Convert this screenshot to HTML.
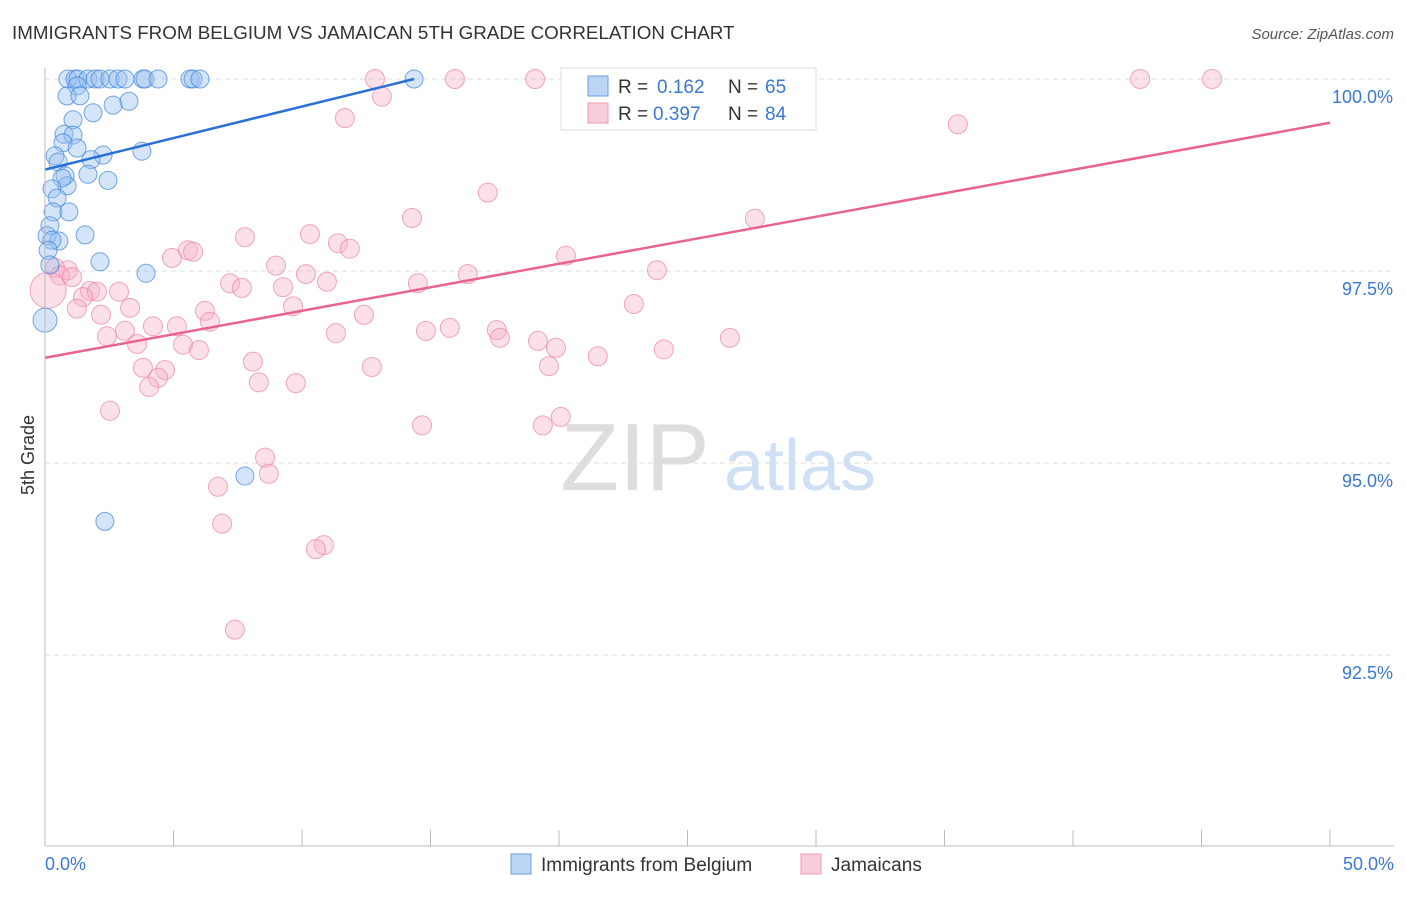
<!DOCTYPE html>
<html><head><meta charset="utf-8"><style>
body{margin:0;background:#fff;font-family:"Liberation Sans",sans-serif;}
svg text{font-family:"Liberation Sans",sans-serif;}
</style></head><body>
<svg id="c" width="1406" height="892">
<text x="12" y="39" font-size="18.8" fill="#333">IMMIGRANTS FROM BELGIUM VS JAMAICAN 5TH GRADE CORRELATION CHART</text>
<text x="1394" y="39" font-size="15" fill="#555" font-style="italic" text-anchor="end">Source: ZipAtlas.com</text>
<text x="635" y="490" font-size="96" fill="#ddd" font-family="Liberation Serif" text-anchor="middle">ZIP</text>
<text x="800" y="490" font-size="72" fill="#cfe0f5" text-anchor="middle">atlas</text>
<g id="grid"></g><g id="pts"></g><g id="lines"></g>
<line x1="45" y1="68" x2="45" y2="846" stroke="#bbb"/>
<line x1="45" y1="846" x2="1394" y2="846" stroke="#bbb"/>
<text x="34" y="455" font-size="18" fill="#333" transform="rotate(-90 34 455)" text-anchor="middle">5th Grade</text>
<text x="45" y="870" font-size="18" fill="#3a78d4">0.0%</text>
<text x="1394" y="870" font-size="18" fill="#3a78d4" text-anchor="end">50.0%</text>
<g>
<rect x="561" y="68" width="255" height="62" fill="#fff" stroke="#ddd"/>
<rect x="588" y="76" width="20" height="20" fill="#bcd5f5" stroke="#6a9ee0"/>
<rect x="588" y="103" width="20" height="20" fill="#f9ccd9" stroke="#ee9ab4"/>
<text x="618" y="93" font-size="19" fill="#333">R =</text><text x="657" y="93" font-size="19" fill="#3a78d4">0.162</text>
<text x="728" y="93" font-size="19" fill="#333">N =</text><text x="765" y="93" font-size="19" fill="#3a78d4">65</text>
<text x="618" y="120" font-size="19" fill="#333">R =</text><text x="653" y="120" font-size="19" fill="#3a78d4">0.397</text>
<text x="728" y="120" font-size="19" fill="#333">N =</text><text x="765" y="120" font-size="19" fill="#3a78d4">84</text>
</g>
<g>
<rect x="511" y="854" width="20" height="20" fill="#bcd5f5" stroke="#6a9ee0"/>
<text x="541" y="871" font-size="19" fill="#333">Immigrants from Belgium</text>
<rect x="801" y="854" width="20" height="20" fill="#f9ccd9" stroke="#ee9ab4"/>
<text x="831" y="871" font-size="19" fill="#333">Jamaicans</text>
</g>
</svg>
<script>
const yTicks=[100,97.5,95,92.5];
const yTickLabels=["100.0%","97.5%","95.0%","92.5%"];
const xTicks=[0,5,10,15,20,25,30,35,40,45,50];
const blueX=[0.89,1.17,1.28,1.67,1.95,2.14,2.53,2.84,3.11,3.81,3.89,4.40,5.64,5.76,6.03,14.36,1.25,0.86,1.36,1.87,2.65,3.27,1.09,0.74,1.09,0.70,1.25,3.77,2.26,1.79,0.39,0.51,1.67,2.45,0.78,0.86,0.66,0.27,0.47,0.31,0.93,0.19,0.08,1.56,0.54,0.27,0.12,0.19,2.14,3.93,0,7.78,2.33];
const blueY=[100,100,100,100,100,100,100,100,100,100,100,100,100,100,100,100,99.91,99.78,99.78,99.56,99.66,99.71,99.47,99.28,99.27,99.17,99.10,99.06,99.01,98.95,99.00,98.92,98.76,98.68,98.74,98.61,98.71,98.57,98.45,98.27,98.27,98.09,97.96,97.97,97.89,97.90,97.77,97.58,97.62,97.47,96.86,94.83,94.24];
const pinkX=[12.84,15.95,19.07,26.46,42.61,45.41,13.11,11.67,35.52,17.23,14.28,27.62,7.78,10.31,11.40,11.86,5.56,5.76,4.94,20.27,8.99,10.15,16.45,23.81,0.39,0.89,0.58,1.05,7.20,7.66,9.26,10.97,14.51,1.75,2.02,2.88,1.48,6.22,9.65,22.91,1.24,3.31,2.18,12.41,6.42,15.75,3.11,5.13,4.20,11.32,14.82,17.58,17.70,2.41,26.65,3.58,5.37,5.99,19.18,19.88,21.51,24.08,8.09,3.81,4.67,12.72,19.61,4.40,4.05,8.32,9.76,2.53,14.67,19.37,20.07,8.56,8.71,6.73,6.89,10.85,10.54,7.39,0.12];
const pinkY=[100,100,100,100,100,100,99.77,99.49,99.41,98.52,98.19,98.18,97.94,97.98,97.86,97.79,97.77,97.75,97.67,97.70,97.57,97.46,97.46,97.51,97.54,97.51,97.44,97.42,97.34,97.28,97.29,97.36,97.34,97.24,97.23,97.23,97.16,96.98,97.04,97.07,97.01,97.02,96.93,96.93,96.84,96.76,96.72,96.78,96.78,96.69,96.72,96.73,96.63,96.65,96.63,96.55,96.54,96.47,96.59,96.50,96.39,96.48,96.32,96.24,96.21,96.25,96.26,96.11,95.99,96.05,96.04,95.68,95.49,95.49,95.60,95.07,94.86,94.69,94.21,93.93,93.88,92.83,97.25];
const blueTrend=[0,98.82,14.36,100];
const pinkTrend=[0,96.37,50,99.43];
const sx=v=>45+v*25.7, sy=v=>79+(100-v)*76.8;
const NS="http://www.w3.org/2000/svg";
const mk=(p,t,a)=>{const e=document.createElementNS(NS,t);for(const k in a)e.setAttribute(k,a[k]);document.getElementById(p).appendChild(e);return e;};
yTicks.forEach((t,i)=>{
 const l=mk('grid','line',{x1:45,x2:1394,y1:sy(t),y2:sy(t),stroke:'#ddd','stroke-dasharray':'5,4'});
 
 
 const tx=mk('grid','text',{x:1393,y:sy(t)+24,'font-size':18,fill:'#3a78d4','text-anchor':'end'});
 tx.textContent=yTickLabels[i];
 
 
});
xTicks.forEach(t=>{
 const l=mk('grid','line',{x1:sx(t),x2:sx(t),y1:830,y2:846,stroke:'#bbb'});
 
 
});
pinkX.forEach((x,i)=>{
 const c=mk('pts','circle',{cx:sx(x),cy:sy(pinkY[i]),r:(i==pinkX.length-1?18:9.5),fill:'rgba(246,178,200,0.4)',stroke:'rgba(236,130,165,0.7)','stroke-width':1});
 
 
});
blueX.forEach((x,i)=>{
 const c=mk('pts','circle',{cx:sx(x),cy:sy(blueY[i]),r:(i==50?12:9),fill:'rgba(150,190,240,0.4)',stroke:'rgba(60,130,220,0.7)','stroke-width':1});
 
 
});
const bl=mk('lines','line',{x1:sx(blueTrend[0]),y1:sy(blueTrend[1]),x2:sx(blueTrend[2]),y2:sy(blueTrend[3]),stroke:'#2a6fd6','stroke-width':2.5});


const pl=mk('lines','line',{x1:sx(pinkTrend[0]),y1:sy(pinkTrend[1]),x2:sx(pinkTrend[2]),y2:sy(pinkTrend[3]),stroke:'#e8648f','stroke-width':2.5});


</script>
</body></html>
